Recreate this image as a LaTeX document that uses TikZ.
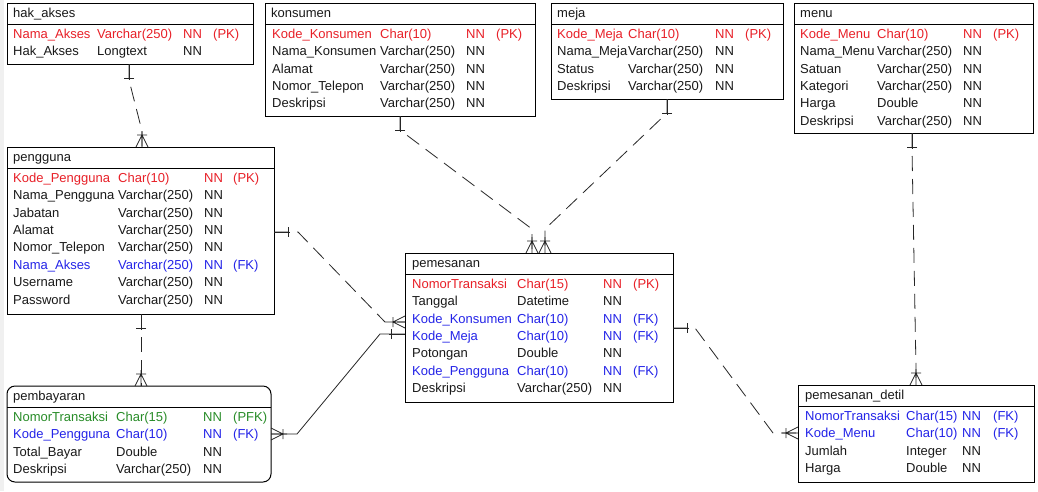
\documentclass[tikz,border=0pt]{standalone}
\usepackage{fontspec}
\setmainfont{Liberation Sans}
\usetikzlibrary{calc}

\definecolor{pk}{RGB}{232,32,40}
\definecolor{fk}{RGB}{36,36,232}
\definecolor{pfk}{RGB}{40,140,40}
\definecolor{biasa}{RGB}{25,25,25}

\tikzstyle{tabel} = [rectangle, draw=black, line width=1pt, inner sep=0pt, outer sep=0pt, anchor=north west]
\tikzstyle{judul} = [anchor=base west, inner sep=0pt, text=biasa, font=\fontsize{13}{15}\selectfont]
\tikzstyle{isi} = [anchor=base west, inner sep=0pt, font=\fontsize{13}{15}\selectfont]
\tikzstyle{garis} = [draw=black!85, line width=0.8pt]
\tikzstyle{putus} = [garis, dash pattern=on 15pt off 8pt]

\tikzset{
  satu/.pic={\draw[garis] (0,0) -- (0,-16) (-5,-14) -- (5,-14);},
  banyak/.pic={\draw[garis] (0,0) -- (0,-16) (-6,0) -- (0,-12) -- (6,0) (-5,-12) -- (5,-12);}
}

% rows of a table: node, x of name, type, NN, key, list colour/name/type/key
\newcommand{\barisan}[6]{%
  \foreach \w/\n/\t/\k [count=\i] in {#6} {
    \node (#1-\i-a) [isi, text=\w] at ($(#1.north west)+(#2,{17.8+17.4*\i})$) {\n};
    \node (#1-\i-b) [isi, text=\w] at ($(#1.north west)+(#3,{17.8+17.4*\i})$) {\t};
    \node (#1-\i-c) [isi, text=\w] at ($(#1.north west)+(#4,{17.8+17.4*\i})$) {NN};
    \node (#1-\i-d) [isi, text=\w] at ($(#1.north west)+(#5,{17.8+17.4*\i})$) {\k};
  }}

\begin{document}
\begin{tikzpicture}[x=1pt, y=-1pt]
\useasboundingbox (0,0) rectangle (1038,491);
\fill[white] (0,0) rectangle (1038,491);
\fill[black!6] (0,0) rectangle (4,491);

% tables
\node (hakakses) [tabel, minimum width=246pt, minimum height=61pt] at (7,3) {};
\node (hakakses-j) [judul] at ($(hakakses.north west)+(6,14.5)$) {hak\_akses};
\draw[line width=1pt] ([yshift=-21pt]hakakses.north west) -- ([yshift=-21pt]hakakses.north east);
\barisan{hakakses}{6}{90}{176}{206}{pk/Nama\_Akses/Varchar(250)/(PK), biasa/Hak\_Akses/Longtext/{}}

\node (konsumen) [tabel, minimum width=270pt, minimum height=113pt] at (265,3) {};
\node (konsumen-j) [judul] at ($(konsumen.north west)+(6,14.5)$) {konsumen};
\draw[line width=1pt] ([yshift=-21pt]konsumen.north west) -- ([yshift=-21pt]konsumen.north east);
\barisan{konsumen}{7}{115}{201}{231}{pk/Kode\_Konsumen/Char(10)/(PK), biasa/Nama\_Konsumen/Varchar(250)/{}, biasa/Alamat/Varchar(250)/{}, biasa/Nomor\_Telepon/Varchar(250)/{}, biasa/Deskripsi/Varchar(250)/{}}

\node (meja) [tabel, minimum width=232pt, minimum height=96pt] at (551,3) {};
\node (meja-j) [judul] at ($(meja.north west)+(6,14.5)$) {meja};
\draw[line width=1pt] ([yshift=-21pt]meja.north west) -- ([yshift=-21pt]meja.north east);
\barisan{meja}{6}{77}{164}{194}{pk/Kode\_Meja/Char(10)/(PK), biasa/Nama\_Meja/Varchar(250)/{}, biasa/Status/Varchar(250)/{}, biasa/Deskripsi/Varchar(250)/{}}

\node (menu) [tabel, minimum width=239pt, minimum height=130pt] at (794,3) {};
\node (menu-j) [judul] at ($(menu.north west)+(6,14.5)$) {menu};
\draw[line width=1pt] ([yshift=-21pt]menu.north west) -- ([yshift=-21pt]menu.north east);
\barisan{menu}{6}{83}{169}{199}{pk/Kode\_Menu/Char(10)/(PK), biasa/Nama\_Menu/Varchar(250)/{}, biasa/Satuan/Varchar(250)/{}, biasa/Kategori/Varchar(250)/{}, biasa/Harga/Double/{}, biasa/Deskripsi/Varchar(250)/{}}

\node (pengguna) [tabel, minimum width=267pt, minimum height=167pt] at (7,147) {};
\node (pengguna-j) [judul] at ($(pengguna.north west)+(6,14.5)$) {pengguna};
\draw[line width=1pt] ([yshift=-21pt]pengguna.north west) -- ([yshift=-21pt]pengguna.north east);
\barisan{pengguna}{6}{111}{197}{226}{pk/Kode\_Pengguna/Char(10)/(PK), biasa/Nama\_Pengguna/Varchar(250)/{}, biasa/Jabatan/Varchar(250)/{}, biasa/Alamat/Varchar(250)/{}, biasa/Nomor\_Telepon/Varchar(250)/{}, fk/Nama\_Akses/Varchar(250)/(FK), biasa/Username/Varchar(250)/{}, biasa/Password/Varchar(250)/{}}

\node (pembayaran) [tabel, rounded corners=8pt, minimum width=264pt, minimum height=96pt] at (7,386) {};
\node (pembayaran-j) [judul] at ($(pembayaran.north west)+(6,14.5)$) {pembayaran};
\draw[line width=1pt] ([yshift=-21pt]pembayaran.north west) -- ([yshift=-21pt]pembayaran.north east);
\barisan{pembayaran}{6}{109}{196}{226}{pfk/NomorTransaksi/Char(15)/(PFK), fk/Kode\_Pengguna/Char(10)/(FK), biasa/Total\_Bayar/Double/{}, biasa/Deskripsi/Varchar(250)/{}}

\node (pemesanan) [tabel, minimum width=268pt, minimum height=149pt] at (405,253) {};
\node (pemesanan-j) [judul] at ($(pemesanan.north west)+(7,14.5)$) {pemesanan};
\draw[line width=1pt] ([yshift=-21pt]pemesanan.north west) -- ([yshift=-21pt]pemesanan.north east);
\barisan{pemesanan}{7}{112}{198}{228}{pk/NomorTransaksi/Char(15)/(PK), biasa/Tanggal/Datetime/{}, fk/Kode\_Konsumen/Char(10)/(FK), fk/Kode\_Meja/Char(10)/(FK), biasa/Potongan/Double/{}, fk/Kode\_Pengguna/Char(10)/(FK), biasa/Deskripsi/Varchar(250)/{}}

\node (detil) [tabel, minimum width=236pt, minimum height=97pt] at (798,385) {};
\node (detil-j) [judul] at ($(detil.north west)+(7,14.5)$) {pemesanan\_detil};
\draw[line width=1pt] ([yshift=-21pt]detil.north west) -- ([yshift=-21pt]detil.north east);
\barisan{detil}{7}{108}{164}{195}{fk/NomorTransaksi/Char(15)/(FK), fk/Kode\_Menu/Char(10)/(FK), biasa/Jumlah/Integer/{}, biasa/Harga/Double/{}}

% connection points
\coordinate (c1a) at ($(hakakses.south west)+(122,0)$);
\coordinate (c1b) at ($(pengguna.north west)+(135,0)$);
\coordinate (c2a) at ($(pengguna.south west)+(134,0)$);
\coordinate (c2b) at ($(pembayaran.north west)+(134,0)$);
\coordinate (c3a) at ($(pengguna.north east)+(0,85)$);
\coordinate (c3b) at ($(pemesanan.north west)+(0,69)$);
\coordinate (c4a) at ($(pembayaran.north east)+(0,48)$);
\coordinate (c4b) at ($(pemesanan.north west)+(0,81)$);
\coordinate (c5a) at ($(konsumen.south west)+(135,0)$);
\coordinate (c5b) at ($(pemesanan.north west)+(127,0)$);
\coordinate (c6a) at ($(meja.south west)+(116,0)$);
\coordinate (c6b) at ($(pemesanan.north west)+(140,0)$);
\coordinate (c7a) at ($(menu.south west)+(118,0)$);
\coordinate (c7b) at ($(detil.north west)+(118,0)$);
\coordinate (c8a) at ($(pemesanan.north east)+(0,75)$);
\coordinate (c8b) at ($(detil.north west)+(0,48)$);

% relations
\draw[putus] (c1a) -- ++(0,16) -- ($(c1b)+(0,-16)$) -- (c1b);
\draw[putus] (c2a) -- (c2b);
\draw[putus] (c3a) -- ++(24,0) -- ($(c3b)+(-20,0)$) -- (c3b);
\draw[garis] (c4a) -- ++(26,0) -- ($(c4b)+(-25,0)$) -- (c4b);
\draw[putus] (c5a) -- ++(0,14) -- ($(c5b)+(0,-24)$) -- (c5b);
\draw[putus] (c6a) -- ++(0,14) -- ($(c6b)+(0,-24)$) -- (c6b);
\draw[putus] (c7a) -- ++(0,16) -- ($(c7b)+(0,-16)$) -- (c7b);
\draw[putus] (c8a) -- ++(22,0) -- ($(c8b)+(-25,0)$) -- (c8b);

% ends
\pic[rotate=180] at (c1a) {satu};
\pic at (c1b) {banyak};
\pic[rotate=180] at (c2a) {satu};
\pic at (c2b) {banyak};
\pic[rotate=-90] at (c3a) {satu};
\pic[rotate=90] at (c3b) {banyak};
\pic[rotate=-90] at (c4a) {banyak};
\pic[rotate=90] at (c4b) {satu};
\pic[rotate=180] at (c5a) {satu};
\pic at (c5b) {banyak};
\pic[rotate=180] at (c6a) {satu};
\pic at (c6b) {banyak};
\pic[rotate=180] at (c7a) {satu};
\pic at (c7b) {banyak};
\pic[rotate=-90] at (c8a) {satu};
\pic[rotate=90] at (c8b) {banyak};

\end{tikzpicture}
\end{document}
